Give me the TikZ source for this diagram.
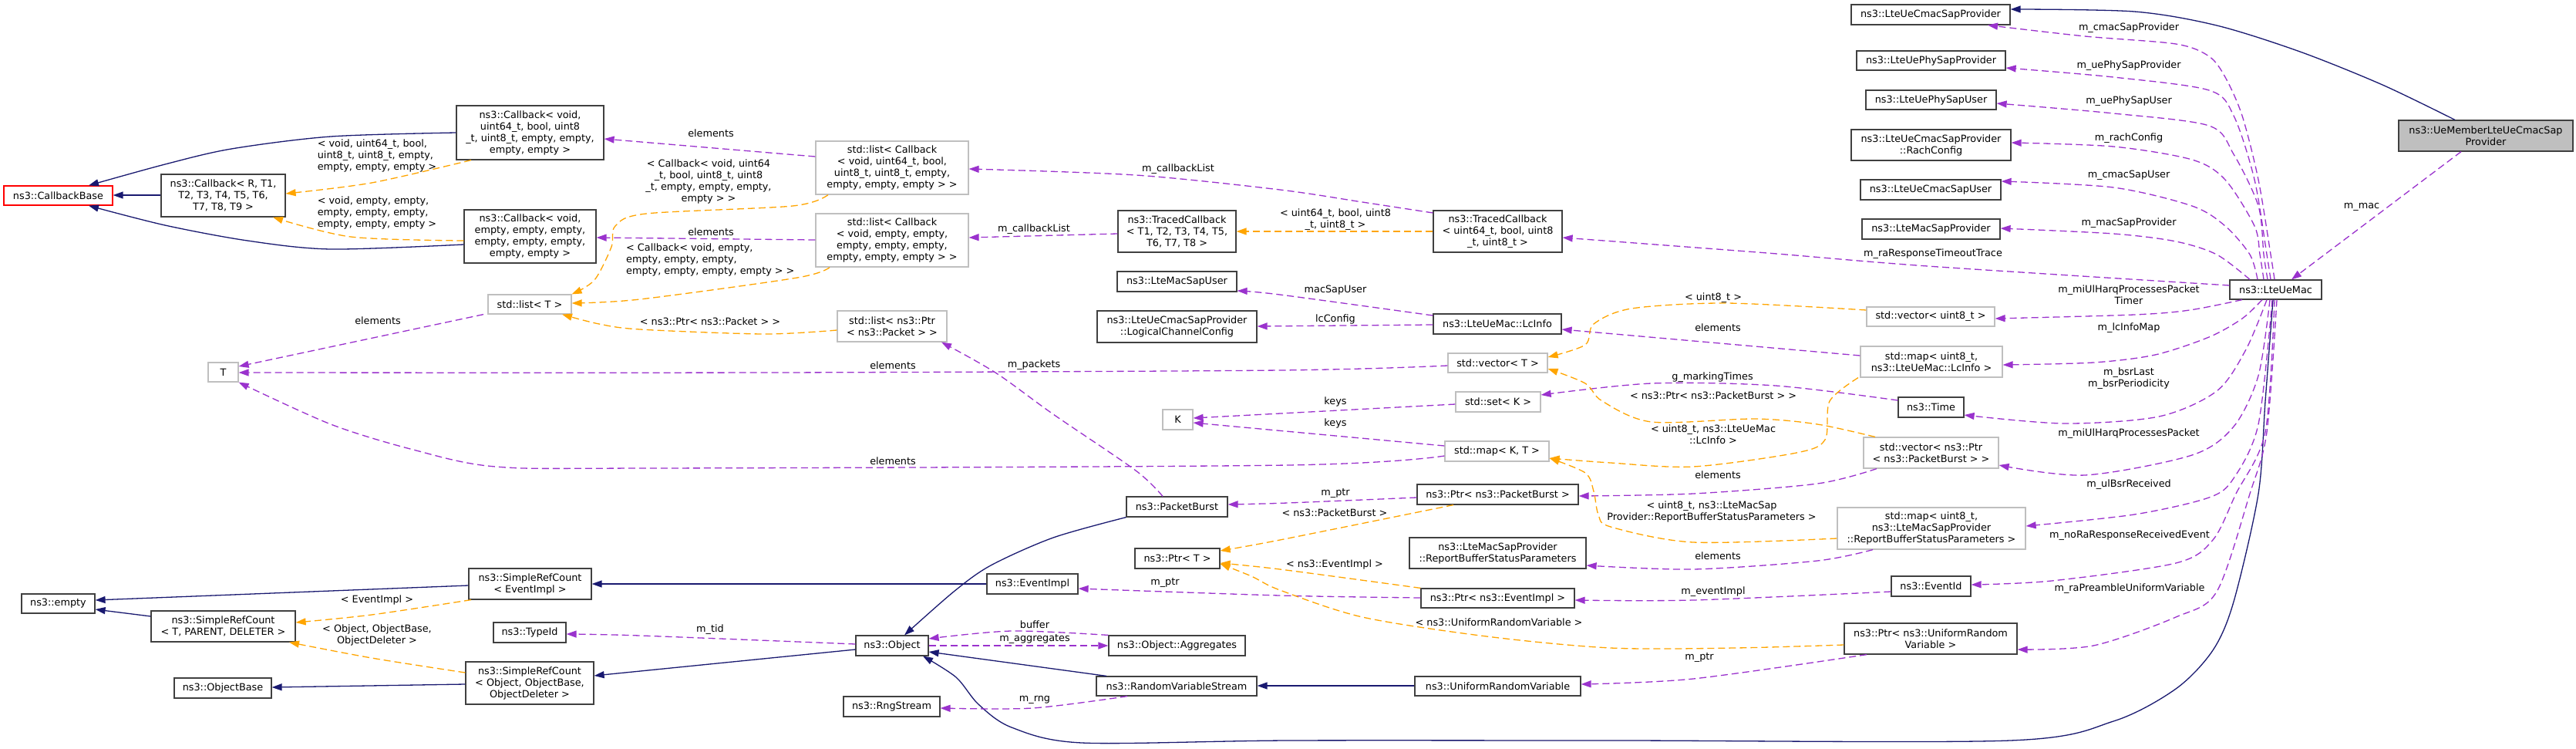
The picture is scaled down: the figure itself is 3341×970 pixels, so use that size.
\documentclass[tikz,border=0pt]{standalone}
\usepackage{fontspec}
\usetikzlibrary{arrows.meta}
\newfontfamily\dxfont{DejaVu Sans}
\newcommand\dxf{\dxfont\fontsize{12.8}{15}\selectfont}
\definecolor{cNavy}{HTML}{191970}
\definecolor{cPurp}{HTML}{9A32CD}
\definecolor{cOrng}{HTML}{FFA500}
\definecolor{cGrayB}{HTML}{BFBFBF}
\definecolor{cNodeB}{HTML}{404040}
\definecolor{cFill}{HTML}{BFBFBF}
\newcommand{\mkbox}[7]{%
\pgfmathsetmacro{\mbcx}{(#3+#5)/2}%
\pgfmathsetmacro{\mbcy}{(#4+#6)/2}%
\pgfmathsetmacro{\mbw}{#5-#3}%
\pgfmathsetmacro{\mbh}{#6-#4}%
\node[#2, minimum width=\mbw pt, minimum height=\mbh pt] (#1) at (\mbcx,\mbcy) {#7};}
\tikzset{
 box/.style={draw=cNodeB, line width=1.2pt, fill=white, inner sep=0pt, align=center, font=\dxf},
 gbox/.style={box, draw=cGrayB},
 rbox/.style={box, draw=red},
 sbox/.style={box, fill=cFill},
 lbl/.style={inner sep=0pt, align=center, font=\dxf},
 lbll/.style={inner sep=0pt, align=left, font=\dxf},
 inh/.style={color=cNavy, line width=1.3pt, -{Triangle[length=13pt,width=9pt]}},
 mem/.style={color=cPurp, line width=1.3pt, dash pattern=on 9pt off 5pt, -{Triangle[length=13pt,width=9pt]}},
 tpl/.style={color=cOrng, line width=1.3pt, dash pattern=on 9pt off 5pt, -{Triangle[length=13pt,width=9pt]}},
}
\begin{document}
\begin{tikzpicture}[x=1pt,y=-1pt]
\fill[white] (0,0) rectangle (3341,970);
\useasboundingbox (0,0) rectangle (3341,970);
% nodes
\mkbox{cbbase}{rbox}{5}{241}{146}{266}{ns3::CallbackBase}
\mkbox{cbgen}{box}{209}{226}{370}{281}{ns3::Callback< R, T1,\\T2, T3, T4, T5, T6,\\T7, T8, T9 >}
\mkbox{cbu64}{box}{592}{137}{783}{207}{ns3::Callback< void,\\uint64\_t, bool, uint8\\\_t, uint8\_t, empty, empty,\\empty, empty >}
\mkbox{cbvoid}{box}{602}{272}{773}{341}{ns3::Callback< void,\\empty, empty, empty,\\empty, empty, empty,\\empty, empty >}
\mkbox{lstu64}{gbox}{1058}{183}{1256}{252}{std::list< Callback\\< void, uint64\_t, bool,\\uint8\_t, uint8\_t, empty,\\empty, empty, empty > >}
\mkbox{lstvoid}{gbox}{1058}{277}{1256}{346}{std::list< Callback\\< void, empty, empty,\\empty, empty, empty,\\empty, empty, empty > >}
\mkbox{tcgen}{box}{1450}{273}{1603}{327}{ns3::TracedCallback\\< T1, T2, T3, T4, T5,\\T6, T7, T8 >}
\mkbox{tcu64}{box}{1859}{273}{2026}{327}{ns3::TracedCallback\\< uint64\_t, bool, uint8\\\_t, uint8\_t >}
\mkbox{cmacprov}{box}{2401}{6}{2607}{32}{ns3::LteUeCmacSapProvider}
\mkbox{phyprov}{box}{2408}{66}{2601}{91}{ns3::LteUePhySapProvider}
\mkbox{phyuser}{box}{2420}{117}{2589}{142}{ns3::LteUePhySapUser}
\mkbox{rach}{box}{2401}{168}{2608}{208}{ns3::LteUeCmacSapProvider\\::RachConfig}
\mkbox{cmacuser}{box}{2413}{233}{2595}{259}{ns3::LteUeCmacSapUser}
\mkbox{macprov}{box}{2415}{284}{2594}{310}{ns3::LteMacSapProvider}
\mkbox{uemember}{sbox}{3111}{156}{3337}{196}{ns3::UeMemberLteUeCmacSap\\Provider}
\mkbox{mac}{box}{2892}{363}{3011}{388}{ns3::LteUeMac}
\mkbox{lsttt}{gbox}{633}{382}{741}{407}{std::list< T >}
\mkbox{T}{gbox}{270}{470}{309}{495}{T}
\mkbox{lstpkt}{gbox}{1086}{403}{1228}{443}{std::list< ns3::Ptr\\< ns3::Packet > >}
\mkbox{macsapuser}{box}{1449}{352}{1604}{378}{ns3::LteMacSapUser}
\mkbox{lcc}{box}{1423}{403}{1630}{444}{ns3::LteUeCmacSapProvider\\::LogicalChannelConfig}
\mkbox{lcinfo}{box}{1859}{407}{2025}{433}{ns3::LteUeMac::LcInfo}
\mkbox{vecu8}{gbox}{2421}{398}{2587}{423}{std::vector< uint8\_t >}
\mkbox{vecT}{gbox}{1878}{458}{2007}{483}{std::vector< T >}
\mkbox{maplc}{gbox}{2413}{449}{2597}{489}{std::map< uint8\_t,\\ns3::LteUeMac::LcInfo >}
\mkbox{time}{box}{2462}{515}{2547}{541}{ns3::Time}
\mkbox{setK}{gbox}{1888}{508}{1998}{534}{std::set< K >}
\mkbox{K}{gbox}{1508}{531}{1547}{557}{K}
\mkbox{mapKT}{gbox}{1874}{572}{2009}{598}{std::map< K, T >}
\mkbox{vecpb}{gbox}{2417}{567}{2592}{607}{std::vector< ns3::Ptr\\< ns3::PacketBurst > >}
\mkbox{ptrpb}{box}{1838}{628}{2047}{654}{ns3::Ptr< ns3::PacketBurst >}
\mkbox{pb}{box}{1461}{644}{1592}{670}{ns3::PacketBurst}
\mkbox{ptrT}{box}{1472}{711}{1582}{737}{ns3::Ptr< T >}
\mkbox{rbsp}{box}{1828}{697}{2057}{737}{ns3::LteMacSapProvider\\::ReportBufferStatusParameters}
\mkbox{maprbsp}{gbox}{2383}{658}{2627}{712}{std::map< uint8\_t,\\ns3::LteMacSapProvider\\::ReportBufferStatusParameters >}
\mkbox{eventimpl}{box}{1280}{744}{1398}{770}{ns3::EventImpl}
\mkbox{ptrev}{box}{1843}{763}{2042}{788}{ns3::Ptr< ns3::EventImpl >}
\mkbox{eventid}{box}{2453}{747}{2556}{773}{ns3::EventId}
\mkbox{ptrurv}{box}{2392}{808}{2616}{848}{ns3::Ptr< ns3::UniformRandom\\Variable >}
\mkbox{urv}{box}{1835}{877}{2050}{902}{ns3::UniformRandomVariable}
\mkbox{rvs}{box}{1422}{877}{1630}{902}{ns3::RandomVariableStream}
\mkbox{object}{box}{1110}{824}{1204}{850}{ns3::Object}
\mkbox{aggr}{box}{1438}{824}{1615}{850}{ns3::Object::Aggregates}
\mkbox{rng}{box}{1094}{903}{1219}{929}{ns3::RngStream}
\mkbox{typeid}{box}{640}{807}{734}{833}{ns3::TypeId}
\mkbox{srcev}{box}{608}{737}{767}{777}{ns3::SimpleRefCount\\< EventImpl >}
\mkbox{srcobj}{box}{604}{858}{770}{913}{ns3::SimpleRefCount\\< Object, ObjectBase,\\ObjectDeleter >}
\mkbox{srcgen}{box}{196}{792}{383}{832}{ns3::SimpleRefCount\\< T, PARENT, DELETER >}
\mkbox{empty}{box}{28}{770}{123}{795}{ns3::empty}
\mkbox{objbase}{box}{226}{879}{352}{905}{ns3::ObjectBase}
% inheritance
\draw[inh] (cbgen.west |- 0,253) -- (cbbase.east |- 0,253);
\draw[inh] plot[smooth] coordinates {(cbu64.west |- 0,172) (429,177) (300,193) (214,213) (115,0 |- cbbase.north)};
\draw[inh] plot[smooth] coordinates {(cbvoid.west |- 0,317) (429,323) (321,312) (214,292) (115,0 |- cbbase.south)};
\draw[inh] plot[smooth] coordinates {(3184,0 |- uemember.north) (3090,110) (2983,67) (2875,33) (2768,15) (cmacprov.east |- 0,12)};
\draw[inh] (srcev.west |- 0,759) -- (empty.east |- 0,778);
\draw[inh] (srcgen.west |- 0,799) -- (empty.east |- 0,790);
\draw[inh] (srcobj.west |- 0,887) -- (objbase.east |- 0,891);
\draw[inh] (eventimpl.west |- 0,757) -- (srcev.east |- 0,757);
\draw[inh] (object.west |- 0,842) -- (srcobj.east |- 0,876);
\draw[inh] plot[smooth] coordinates {(pb.south west) (1366,697) (1285,733) (1237,767) (1173,0 |- object.north)};
\draw[inh] (1435,0 |- rvs.north) -- (object.east |- 0,845);
\draw[inh] (urv.west |- 0,889) -- (rvs.east |- 0,889);
\draw[inh] plot[smooth] coordinates {(2948,0 |- mac.south) (2938,520) (2929,640) (2897,780) (2870,843) (2822,893) (2741,935) (2607,960) (2100,960) (1670,960) (1403,963) (1312,943) (1269,913) (1240,878) (1197,0 |- object.south)};
% members
\draw[mem] (lstu64.west |- 0,203) -- (cbu64.east |- 0,180);
\draw[mem] (lstvoid.west |- 0,311) -- (cbvoid.east |- 0,308);
\draw[mem] plot[smooth] coordinates {(tcu64.west |- 0,276) (1767,262) (1660,246) (1473,227) (lstu64.east |- 0,219)};
\draw[mem] (tcgen.west |- 0,303) -- (lstvoid.east |- 0,308);
\draw[mem] plot[smooth] coordinates {(mac.west |- 0,370) (2500,345) (2292,328) (tcu64.east |- 0,308)};
\draw[mem] plot[smooth] coordinates {(2950,0 |- mac.north) (2945,330) (2929,233) (2908,150) (2886,100) (2865,73) (2822,57) (2704,47) (2578,0 |- cmacprov.south)};
\draw[mem] plot[smooth] coordinates {(2945,0 |- mac.north) (2940,330) (2924,233) (2897,150) (2865,117) (2741,100) (phyprov.east |- 0,88)};
\draw[mem] plot[smooth] coordinates {(2941,0 |- mac.north) (2936,330) (2929,267) (2897,200) (2865,163) (2741,147) (phyuser.east |- 0,134)};
\draw[mem] plot[smooth] coordinates {(2936,0 |- mac.north) (2931,330) (2924,293) (2886,233) (2843,207) (2741,190) (rach.east |- 0,185)};
\draw[mem] plot[smooth] coordinates {(2928,0 |- mac.north) (2918,330) (2886,293) (2843,267) (2741,243) (cmacuser.east |- 0,235)};
\draw[mem] plot[smooth] coordinates {(2918,0 |- mac.north) (2875,330) (2822,313) (2741,303) (macprov.east |- 0,296)};
\draw[mem] (3192,0 |- uemember.south) -- (2972,0 |- mac.north);
\draw[mem] plot[smooth] coordinates {(2908,0 |- mac.south) (2840,402) (2768,408) (vecu8.east |- 0,413)};
\draw[mem] plot[smooth] coordinates {(2934,0 |- mac.south) (2908,413) (2865,437) (2795,460) (2715,470) (maplc.east |- 0,473)};
\draw[mem] plot[smooth] coordinates {(2940,0 |- mac.south) (2913,453) (2875,507) (2800,540) (2677,549) (time.east |- 0,538)};
\draw[mem] plot[smooth] coordinates {(2944,0 |- mac.south) (2929,487) (2897,553) (2843,590) (2704,616) (vecpb.east |- 0,603)};
\draw[mem] plot[smooth] coordinates {(2947,0 |- mac.south) (2929,550) (2897,620) (2865,645) (2768,667) (maprbsp.east |- 0,682)};
\draw[mem] plot[smooth] coordinates {(2950,0 |- mac.south) (2938,560) (2900,640) (2870,700) (2822,730) (2661,753) (eventid.east |- 0,758)};
\draw[mem] plot[smooth] coordinates {(2953,0 |- mac.south) (2940,560) (2918,640) (2875,767) (2822,800) (2715,837) (ptrurv.east |- 0,842)};
\draw[mem] plot[smooth] coordinates {(lcinfo.west |- 0,409) (1660,382) (macsapuser.east |- 0,377)};
\draw[mem] (lcinfo.west |- 0,421) -- (lcc.east |- 0,423);
\draw[mem] (maplc.west |- 0,461) -- (lcinfo.east |- 0,427);
\draw[mem] plot[smooth] coordinates {(vecT.west |- 0,474) (1660,480) (1000,483) (T.east |- 0,483)};
\draw[mem] plot[smooth] coordinates {(time.west |- 0,519) (2303,500) (2142,497) (setK.east |- 0,512)};
\draw[mem] (setK.west |- 0,524) -- (K.east |- 0,542);
\draw[mem] (mapKT.west |- 0,578) -- (K.east |- 0,548);
\draw[mem] plot[smooth] coordinates {(mapKT.west |- 0,591) (1670,603) (840,607) (643,605) (536,583) (429,550) (T.south east)};
\draw[mem] plot[smooth] coordinates {(2434,0 |- vecpb.south) (2357,627) (2196,640) (ptrpb.east |- 0,643)};
\draw[mem] plot[smooth] coordinates {(ptrpb.west |- 0,645) (1670,652) (pb.east |- 0,654)};
\draw[mem] plot[smooth] coordinates {(1508,0 |- pb.north) (1473,610) (1366,537) (1291,483) (1221,0 |- lstpkt.south)};
\draw[mem] (627,0 |- lsttt.south) -- (T.east |- 0,475);
\draw[mem] plot[smooth] coordinates {(2429,0 |- maprbsp.south) (2357,727) (2196,738) (rbsp.east |- 0,733)};
\draw[mem] plot[smooth] coordinates {(ptrev.west |- 0,775) (1660,772) (eventimpl.east |- 0,763)};
\draw[mem] plot[smooth] coordinates {(eventid.west |- 0,767) (2196,778) (ptrev.east |- 0,778)};
\draw[mem] plot[smooth] coordinates {(2421,0 |- ptrurv.south) (2196,880) (urv.east |- 0,887)};
\draw[mem] plot[smooth] coordinates {(object.west |- 0,835) (830,824) (typeid.east |- 0,822)};
\draw[mem] plot[smooth] coordinates {(aggr.north west) (1312,818) (object.east |- 0,828)};
\draw[mem] (object.east |- 0,837) -- (aggr.west |- 0,837);
\draw[mem] plot[smooth] coordinates {(1462,0 |- rvs.south) (1339,918) (rng.east |- 0,918)};
% templates
\draw[tpl] plot[smooth] coordinates {(611,0 |- cbu64.south) (482,237) (cbgen.east |- 0,251)};
\draw[tpl] plot[smooth] coordinates {(cbvoid.west |- 0,312) (455,307) (354,0 |- cbgen.south)};
\draw[tpl] plot[smooth] coordinates {(1074,0 |- lstu64.south) (1028,267) (838,277) (798,293) (793,320) (771,363) (lsttt.north east)};
\draw[tpl] plot[smooth] coordinates {(1076,0 |- lstvoid.south) (1034,360) (830,388) (lsttt.east |- 0,393)};
\draw[tpl] plot[smooth] coordinates {(lstpkt.west |- 0,428) (991,433) (830,427) (777,420) (729,0 |- lsttt.south)};
\draw[tpl] (tcu64.west |- 0,300) -- (tcgen.east |- 0,300);
\draw[tpl] plot[smooth] coordinates {(vecu8.west |- 0,402) (2239,393) (2116,400) (2067,420) (2056,447) (vecT.east |- 0,463)};
\draw[tpl] plot[smooth] coordinates {(2432,0 |- vecpb.north) (2357,550) (2276,543) (2142,547) (2078,520) (2056,497) (vecT.east |- 0,478)};
\draw[tpl] plot[smooth] coordinates {(2410,0 |- maplc.south) (2373,520) (2367,570) (2330,587) (2196,605) (2089,600) (mapKT.east |- 0,594)};
\draw[tpl] plot[smooth] coordinates {(maprbsp.west |- 0,698) (2196,703) (2089,683) (2073,667) (2067,637) (2056,613) (mapKT.east |- 0,594)};
\draw[tpl] plot[smooth] coordinates {(1885,0 |- ptrpb.south) (1660,700) (ptrT.east |- 0,714)};
\draw[tpl] plot[smooth] coordinates {(ptrev.north west) (1660,738) (ptrT.east |- 0,730)};
\draw[tpl] plot[smooth] coordinates {(ptrurv.west |- 0,836) (2250,840) (2089,840) (1928,825) (1767,800) (1660,765) (1623,747) (ptrT.east |- 0,731)};
\draw[tpl] plot[smooth] coordinates {(611,0 |- srcev.south) (482,797) (srcgen.east |- 0,807)};
\draw[tpl] plot[smooth] coordinates {(srcobj.west |- 0,872) (482,853) (375,0 |- srcgen.south)};
% labels
\node[lbll] (lA) at (489,202) {< void, uint64\_t, bool,\\uint8\_t, uint8\_t, empty,\\empty, empty, empty >};
\node[lbll] (lB) at (489,276) {< void, empty, empty,\\empty, empty, empty,\\empty, empty, empty >};
\node[lbl] (lC) at (919,235) {< Callback< void, uint64\\\_t, bool, uint8\_t, uint8\\\_t, empty, empty, empty,\\empty > >};
\node[lbll, anchor=west] (lD) at (812,337) {< Callback< void, empty,\\empty, empty, empty,\\empty, empty, empty, empty > >};
\node[lbl] (le1) at (922,173) {elements};
\node[lbl] (le2) at (922,301) {elements};
\node[lbl] (lcb1) at (1528,219) {m\_callbackList};
\node[lbl] (lcb2) at (1341,297) {m\_callbackList};
\node[lbl] (ltc) at (1732,285) {< uint64\_t, bool, uint8\\\_t, uint8\_t >};
\node[lbl] (lrrt) at (2507,329) {m\_raResponseTimeoutTrace};
\node[lbl] (lcsp) at (2761,36) {m\_cmacSapProvider};
\node[lbl] (lpsp) at (2761,85) {m\_uePhySapProvider};
\node[lbl] (lpsu) at (2761,131) {m\_uePhySapUser};
\node[lbl] (lrach) at (2761,179) {m\_rachConfig};
\node[lbl] (lcsu) at (2761,227) {m\_cmacSapUser};
\node[lbl] (lmsp) at (2761,289) {m\_macSapProvider};
\node[lbl] (lmac) at (3063,268) {m\_mac};
\node[lbl] (lharqt) at (2761,382) {m\_miUlHarqProcessesPacket\\Timer};
\node[lbl] (llcm) at (2761,425) {m\_lcInfoMap};
\node[lbl] (lbsr) at (2761,491) {m\_bsrLast\\m\_bsrPeriodicity};
\node[lbl] (lharq) at (2761,562) {m\_miUlHarqProcessesPacket};
\node[lbl] (lubr) at (2761,628) {m\_ulBsrReceived};
\node[lbl] (lnrr) at (2762,694) {m\_noRaResponseReceivedEvent};
\node[lbl] (lrpu) at (2762,763) {m\_raPreambleUniformVariable};
\node[lbl] (lmsu) at (1732,376) {macSapUser};
\node[lbl] (llcc) at (1732,414) {lcConfig};
\node[lbl] (lu8) at (2222,386) {< uint8\_t >};
\node[lbl] (lel3) at (2228,425) {elements};
\node[lbl] (lel4) at (1158,474) {elements};
\node[lbl] (lgmt) at (2221,489) {g\_markingTimes};
\node[lbl] (lppb) at (2222,513) {< ns3::Ptr< ns3::PacketBurst > >};
\node[lbl] (lk1) at (1732,521) {keys};
\node[lbl] (lk2) at (1732,549) {keys};
\node[lbl] (llci) at (2222,563) {< uint8\_t, ns3::LteUeMac\\::LcInfo >};
\node[lbl] (lel5) at (1158,598) {elements};
\node[lbl] (lel6) at (2228,616) {elements};
\node[lbl] (lmptr1) at (1732,640) {m\_ptr};
\node[lbl] (lpkts) at (1341,473) {m\_packets};
\node[lbl] (lel7) at (490,416) {elements};
\node[lbl] (lppk) at (921,417) {< ns3::Ptr< ns3::Packet > >};
\node[lbl] (lrbsp) at (2220,663) {< uint8\_t, ns3::LteMacSap\\Provider::ReportBufferStatusParameters >};
\node[lbl] (lel8) at (2228,721) {elements};
\node[lbl] (lpbt) at (1731,665) {< ns3::PacketBurst >};
\node[lbl] (levt) at (1731,732) {< ns3::EventImpl >};
\node[lbl] (lmptr2) at (1511,756) {m\_ptr};
\node[lbl] (levi) at (2222,767) {m\_eventImpl};
\node[lbl] (lurv) at (1944,807) {< ns3::UniformRandomVariable >};
\node[lbl] (lmptr3) at (2204,853) {m\_ptr};
\node[lbl] (ltid) at (921,816) {m\_tid};
\node[lbl] (lbuf) at (1342,810) {buffer};
\node[lbl] (lagg) at (1342,829) {m\_aggregates};
\node[lbl] (lrng) at (1342,907) {m\_rng};
\node[lbl] (levimpl) at (489,778) {< EventImpl >};
\node[lbl] (lobj) at (489,823) {< Object, ObjectBase,\\ObjectDeleter >};
\end{tikzpicture}
\end{document}
